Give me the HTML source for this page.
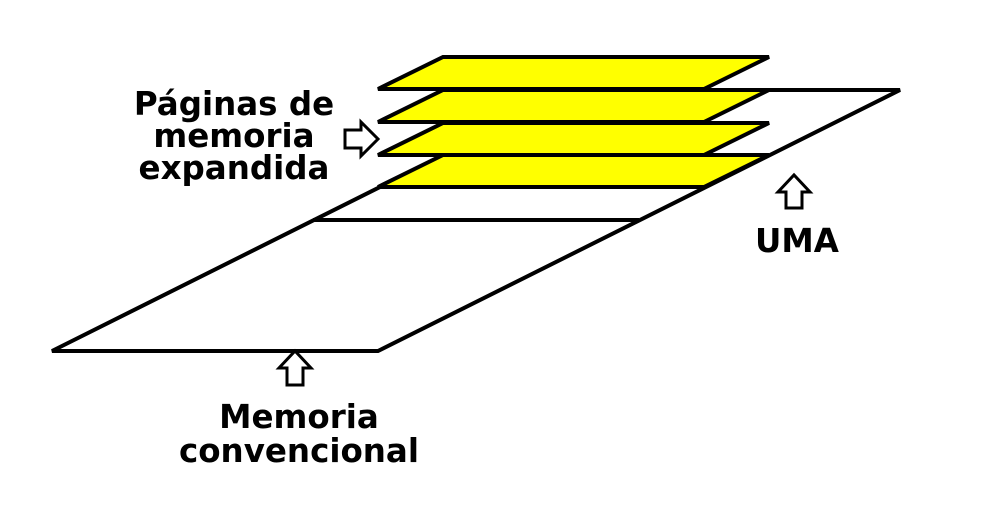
<!DOCTYPE html>
<html><head><style>
body{margin:0;background:#fff;}
text{font-family:"DejaVu Sans","Liberation Sans",sans-serif;font-weight:bold;font-size:32.5px;fill:#000;}
</style></head><body>
<svg width="987" height="512" viewBox="0 0 987 512" xmlns="http://www.w3.org/2000/svg">
<g stroke="#000" stroke-width="4" stroke-linejoin="miter">
<polygon points="52,351 378,351 900,90 574,90" fill="#fff"/>
<line x1="313" y1="220" x2="639" y2="220"/>
<line x1="378" y1="187" x2="704" y2="187"/>
<polygon points="378,187 704,187 769,155 443,155" fill="#ff0"/>
<polygon points="378,155 704,155 769,123 443,123" fill="#ff0"/>
<polygon points="378,122 704,122 769,90 443,90" fill="#ff0"/>
<polygon points="378,89 704,89 769,57 443,57" fill="#ff0"/>
</g>
<g stroke="#000" stroke-width="3" fill="#fff" stroke-linejoin="miter">
<polygon points="345,130 361,130 361,122 378,139 361,156 361,148 345,148"/>
<polygon points="786,208 786,192 778,192 794,175 810,192 802,192 802,208"/>
<polygon points="287,385 287,368 279,368 295,351 311,368 303,368 303,385"/>
</g>
<text x="234" y="115" text-anchor="middle">Páginas de</text>
<text x="234" y="147" text-anchor="middle">memoria</text>
<text x="234" y="179" text-anchor="middle">expandida</text>
<text x="797" y="252" text-anchor="middle">UMA</text>
<text x="299" y="428" text-anchor="middle">Memoria</text>
<text x="299" y="462" text-anchor="middle">convencional</text>
</svg>
</body></html>
